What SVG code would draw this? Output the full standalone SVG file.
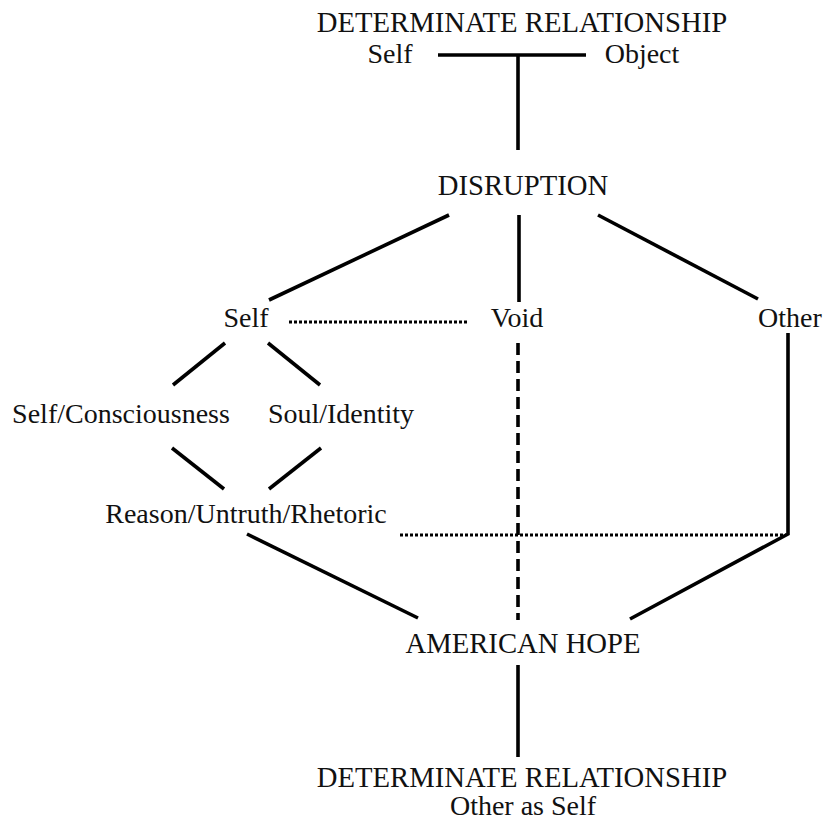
<svg xmlns="http://www.w3.org/2000/svg" width="825" height="821" viewBox="0 0 825 821">
<style>
text{font-family:"Liberation Serif","Times New Roman",serif;font-size:28px;fill:#111;}
.c{text-anchor:middle}
.caps{font-size:28.7px}
.s{stroke:#000;stroke-width:3.6;fill:none}
.d{stroke:#000;stroke-width:3.2;stroke-dasharray:3 2;fill:none}
.dash{stroke:#000;stroke-width:3.6;stroke-dasharray:12 6;fill:none}
</style>
<rect width="825" height="821" fill="#fff"/>
<g id="connectors">
<line class="s" x1="438" y1="55" x2="586" y2="55"/>
<line class="s" x1="518" y1="55" x2="518" y2="150"/>
<line class="s" x1="449" y1="215" x2="269" y2="300"/>
<line class="s" x1="519" y1="215" x2="519" y2="302"/>
<line class="s" x1="598" y1="215" x2="758" y2="299"/>
<line class="d" x1="289" y1="322" x2="467" y2="322"/>
<line class="dash" x1="518" y1="343" x2="518" y2="620"/>
<line class="s" x1="225" y1="343" x2="173" y2="385"/>
<line class="s" x1="268" y1="343" x2="320" y2="385"/>
<line class="s" x1="172" y1="448" x2="224" y2="489"/>
<line class="s" x1="321" y1="448" x2="269" y2="489"/>
<line class="s" x1="247" y1="534" x2="418" y2="618"/>
<polyline class="s" points="788,333 788,534 630,619"/>
<line class="d" x1="400" y1="535" x2="786" y2="535"/>
<line class="s" x1="518" y1="665" x2="518" y2="757"/>
</g>
<g id="top"><text class="c caps" x="522" y="32">DETERMINATE RELATIONSHIP</text></g>
<g id="top-self"><text class="c" x="390" y="63">Self</text></g>
<g id="top-object"><text class="c" x="642" y="63">Object</text></g>
<g id="disruption"><text class="c caps" x="523" y="195">DISRUPTION</text></g>
<g id="self"><text class="c" x="246" y="327">Self</text></g>
<g id="void"><text class="c" x="517" y="327">Void</text></g>
<g id="other"><text class="c" x="790" y="327">Other</text></g>
<g id="self-consciousness"><text class="c" x="121" y="423">Self/Consciousness</text></g>
<g id="soul-identity"><text class="c" x="341" y="423">Soul/Identity</text></g>
<g id="reason"><text class="c" x="246" y="523">Reason/Untruth/Rhetoric</text></g>
<g id="american-hope"><text class="c caps" x="523" y="653">AMERICAN HOPE</text></g>
<g id="bottom"><text class="c caps" x="522" y="787">DETERMINATE RELATIONSHIP</text><text class="c" x="523" y="815">Other as Self</text></g>
</svg>
